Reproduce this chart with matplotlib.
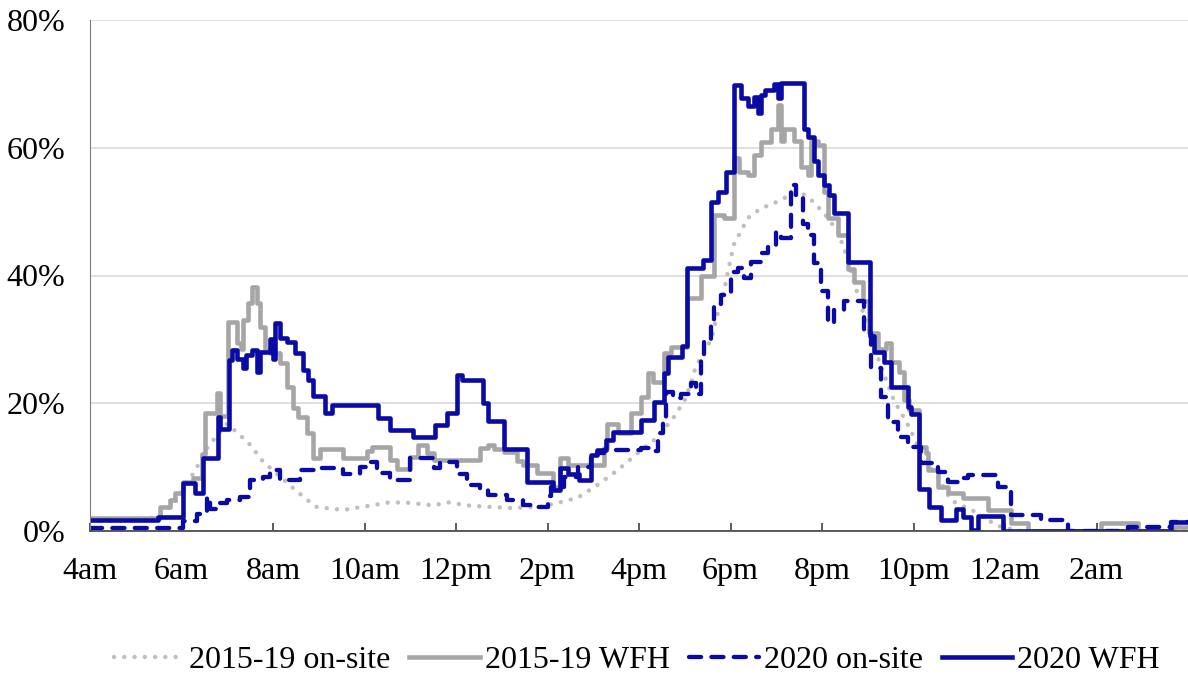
import numpy as np
import matplotlib.pyplot as plt

plt.rcParams['font.family'] = ['Liberation Serif', 'DejaVu Serif']

# time in clock hours (4 = 4am, 24 = midnight, 28 = 4am next day); values in %
onsite15_t = [4.0, 5.09, 5.49, 5.86, 6.04, 6.30, 6.56, 6.84, 7.00, 7.28, 7.50, 7.79, 8.16,
              8.49, 8.93, 9.25, 9.54, 10.06, 10.56, 11.00, 11.51, 11.81, 12.25, 12.69, 13.19,
              13.85, 14.22, 14.66, 15.09, 15.53, 15.97, 16.41, 16.76, 17.00, 17.13, 17.24,
              17.57, 17.72, 17.85, 18.07, 18.38, 18.66, 18.95, 19.16, 19.54, 19.82, 20.13,
              20.35, 20.56, 20.70, 20.95, 21.29, 21.57, 21.88, 22.32, 22.45, 22.82, 23.32,
              23.63, 23.85, 24.30, 28.0]
onsite15_v = [1.5, 1.8, 2.2, 4.5, 6.5, 9.5, 13.0, 15.5, 16.8, 15.0, 13.5, 10.8, 8.5,
              6.4, 3.8, 3.5, 3.3, 3.9, 4.5, 4.4, 4.0, 4.5, 4.0, 3.8, 3.6,
              3.8, 4.4, 5.2, 7.2, 9.5, 12.2, 14.7, 17.8, 20.5, 23.0, 25.7,
              29.9, 34.0, 37.4, 44.8, 49.0, 50.5, 51.3, 52.1, 53.0, 51.5, 49.0,
              46.8, 42.7, 39.0, 33.0, 25.7, 20.5, 16.6, 10.0, 9.5, 4.8, 3.1,
              1.7, 0.8, 0.0, 0.0]

wfh15_t = [4.0, 5.53, 5.75, 5.86, 6.04, 6.25, 6.45, 6.52, 6.78, 6.84, 7.02, 7.22, 7.30,
           7.35, 7.46, 7.54, 7.65, 7.72, 7.83, 7.94, 8.16, 8.31, 8.44, 8.55, 8.75, 8.88,
           9.03, 9.54, 10.06, 10.17, 10.56, 10.72, 11.00, 11.18, 11.37, 11.51, 12.53,
           12.71, 12.82, 13.04, 13.34, 13.47, 13.78, 14.11, 14.28, 14.44, 15.23, 15.31,
           15.55, 15.82, 16.04, 16.19, 16.30, 16.54, 16.69, 17.06, 17.35, 17.63, 17.85,
           18.07, 18.18, 18.38, 18.51, 18.66, 18.88, 19.03, 19.10, 19.16, 19.38, 19.54,
           19.69, 19.75, 19.91, 20.04, 20.13, 20.35, 20.56, 20.70, 20.90, 21.02, 21.22,
           21.40, 21.51, 21.68, 21.79, 21.90, 22.12, 22.27, 22.32, 22.53, 22.75, 23.08,
           23.63, 24.13, 24.50, 26.10, 26.91, 27.70, 28.0]
wfh15_v = [2.0, 3.8, 4.8, 5.9, 7.7, 8.3, 12.0, 18.4, 21.6, 18.0, 32.7, 29.4, 28.5,
           33.0, 35.7, 38.2, 35.7, 31.9, 28.3, 27.8, 26.3, 22.5, 19.2, 17.8, 15.3, 11.4,
           12.8, 11.4, 12.5, 13.1, 11.1, 9.7, 11.6, 13.5, 12.2, 11.1, 13.0,
           13.5, 12.8, 12.4, 11.0, 10.3, 9.1, 6.9, 11.5, 10.3, 13.0, 16.8,
           15.3, 18.5, 21.0, 24.7, 23.3, 27.8, 28.8, 36.5, 40.0, 49.5, 49.0,
           58.4, 56.2, 55.7, 58.8, 60.9, 63.0, 66.7, 61.0, 63.0, 61.0, 57.0,
           55.7, 61.0, 60.4, 53.0, 49.0, 46.3, 41.0, 39.0, 36.0, 31.0, 28.5,
           29.4, 26.5, 24.9, 20.5, 18.9, 13.1, 12.2, 9.5, 6.9, 5.9, 5.2,
           3.3, 1.3, 0.0, 1.3, 0.0, 0.6, 0.6]

onsite20_t = [4.0, 6.04, 6.34, 6.56, 6.63, 6.84, 7.00, 7.28, 7.50, 7.79, 7.94, 8.16, 8.60,
              9.03, 9.54, 9.91, 10.06, 10.28, 10.56, 11.00, 11.51, 11.66, 12.03, 12.25,
              12.53, 12.69, 13.12, 13.47, 13.78, 14.00, 14.07, 14.35, 14.66, 14.94, 15.09,
              15.23, 16.04, 16.30, 16.41, 16.52, 16.58, 16.74, 16.91, 17.13, 17.24, 17.35,
              17.41, 17.57, 17.63, 17.79, 18.00, 18.16, 18.29, 18.44, 18.66, 18.81, 18.99,
              19.10, 19.32, 19.43, 19.58, 19.69, 19.82, 19.97, 20.13, 20.26, 20.48, 20.91,
              21.07, 21.29, 21.44, 21.66, 21.88, 22.16, 22.53, 22.75, 22.97, 23.19, 23.85,
              24.13, 24.79, 25.38, 26.69, 27.63, 28.0]
onsite20_v = [0.5, 1.5, 2.7, 5.3, 3.5, 4.4, 4.8, 5.3, 8.0, 8.5, 9.5, 8.0, 9.5,
              9.8, 8.9, 10.0, 10.8, 9.1, 8.0, 11.4, 9.8, 10.8, 9.0, 7.2,
              6.4, 5.6, 4.8, 4.0, 3.8, 5.5, 6.9, 8.5, 10.0, 11.5, 12.2,
              12.7, 13.0, 12.5, 15.3, 17.4, 21.8, 20.8, 21.5, 23.2, 21.5, 27.0,
              29.9, 32.5, 35.0, 37.0, 40.5, 41.2, 39.6, 42.1, 43.5, 44.4, 46.8,
              45.8, 54.1, 52.1, 48.0, 46.3, 42.0, 37.5, 32.5, 34.6, 36.0, 31.0,
              25.5, 21.0, 17.0, 14.7, 13.1, 10.6, 9.2, 7.7, 8.3, 8.8, 6.9,
              2.5, 1.7, 0.0, 0.6, 1.4, 1.4]

wfh20_t = [4.0, 5.49, 6.04, 6.30, 6.47, 6.80, 6.84, 7.04, 7.10, 7.22, 7.35, 7.40, 7.55,
           7.65, 7.72, 7.94, 8.00, 8.05, 8.16, 8.31, 8.49, 8.66, 8.77, 8.88, 9.14, 9.28,
           10.30, 10.56, 11.05, 11.55, 11.81, 12.03, 12.14, 12.58, 12.71, 13.04, 13.56,
           14.11, 14.28, 14.44, 14.68, 14.94, 15.09, 15.27, 15.44, 16.04, 16.32, 16.54,
           16.63, 16.95, 17.06, 17.39, 17.57, 17.72, 17.90, 18.07, 18.22, 18.38, 18.51,
           18.60, 18.66, 18.75, 18.95, 19.03, 19.10, 19.60, 19.69, 19.82, 19.91, 20.04,
           20.15, 20.26, 20.56, 21.05, 21.13, 21.35, 21.51, 21.88, 21.94, 22.12, 22.34,
           22.60, 22.93, 23.08, 23.26, 23.41, 23.96, 27.63, 28.0]
wfh20_v = [1.7, 2.2, 7.5, 6.0, 11.4, 17.8, 16.0, 26.8, 28.3, 27.0, 25.5, 27.5, 28.4,
           24.9, 28.0, 30.0, 27.0, 32.5, 30.2, 29.6, 27.9, 25.2, 23.6, 21.2, 18.5, 19.7,
           17.7, 15.8, 14.7, 16.6, 18.5, 24.4, 23.6, 20.0, 17.2, 12.8, 7.7,
           6.4, 9.9, 9.0, 8.0, 11.9, 12.7, 14.2, 15.5, 17.4, 20.2, 24.7,
           27.2, 29.0, 41.2, 42.4, 51.5, 53.0, 56.2, 69.8, 67.8, 66.5, 68.0,
           65.4, 68.2, 69.0, 70.0, 67.8, 70.1, 63.0, 61.7, 58.0, 55.7, 54.1,
           52.6, 49.8, 42.1, 30.5, 28.0, 26.5, 22.5, 19.4, 18.3, 6.6, 3.8,
           1.7, 3.5, 2.2, 0.2, 2.3, 0.0, 1.4, 1.4]

tick_pos = [4, 6, 8, 10, 12, 14, 16, 18, 20, 22, 24, 26]
tick_labels = ['4am', '6am', '8am', '10am', '12pm', '2pm', '4pm', '6pm', '8pm',
               '10pm', '12am', '2am']

navy = '#0A0AA5'
grey = '#A6A6A6'
light = '#BFBFBF'

fig = plt.figure(figsize=(11.88, 6.77), dpi=100)
ax = fig.add_axes([90 / 1188, 1 - 531 / 677, 1 - 90 / 1188, (531 - 20) / 677])

ax.plot(onsite15_t, onsite15_v, color=light, lw=3.2, linestyle=(0, (0.01, 2.3)),
        dash_capstyle='round', label='2015-19 on-site')
ax.step(wfh15_t, wfh15_v, where='post', color=grey, lw=3.3, label='2015-19 WFH')
ax.step(onsite20_t, onsite20_v, where='post', color=navy, lw=3.1,
        linestyle=(0, (2.8, 2.4)), dash_capstyle='round', label='2020 on-site')
ax.step(wfh20_t, wfh20_v, where='post', color=navy, lw=3.3, label='2020 WFH')

ax.set_xlim(4, 28)
ax.set_ylim(0, 80)
ax.set_yticks([0, 20, 40, 60, 80])
ax.set_yticklabels(['0%', '20%', '40%', '60%', '80%'])
ax.set_xticks(tick_pos)
ax.set_xticklabels(tick_labels)
ax.tick_params(axis='y', length=0, pad=18, labelsize=23)
ax.tick_params(axis='x', direction='in', length=6, width=1.2, color='#404040',
               pad=19, labelsize=23)
ax.yaxis.grid(True, color='#D9D9D9', lw=1.2)
ax.set_axisbelow(True)
for s in ['top', 'right']:
    ax.spines[s].set_visible(False)
ax.spines['left'].set_color('#7F7F7F')
ax.spines['bottom'].set_color('#404040')
ax.spines['bottom'].set_linewidth(1.2)

fig.legend(loc='center', bbox_to_anchor=(0.536, 0.024), ncol=4, frameon=False,
           fontsize=23, handlelength=2.2, handletextpad=0.15, columnspacing=0.6)

fig.savefig('out.png', dpi=100)
